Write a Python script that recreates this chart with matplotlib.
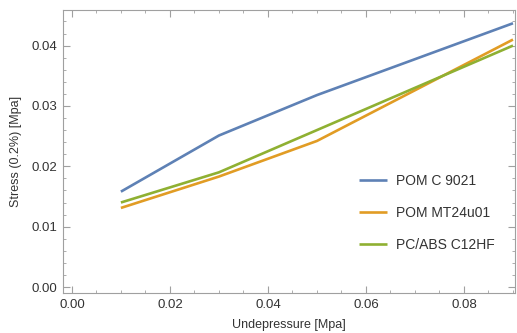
import matplotlib
matplotlib.use("Agg")
import matplotlib.pyplot as plt
from matplotlib.ticker import MultipleLocator, FormatStrFormatter

plt.rcParams['font.family'] = ['Liberation Sans', 'DejaVu Sans']

x = [0.01, 0.03, 0.05, 0.09]
pom_c9021 = [0.0158, 0.0251, 0.0318, 0.0437]
pom_mt24u01 = [0.0131, 0.0183, 0.0242, 0.0410]
pcabs_c12hf = [0.0140, 0.0190, 0.0260, 0.0400]
labels = ["POM C 9021", "POM MT24u01", "PC/ABS C12HF"]
colors = ["#5E81B5", "#E19C24", "#8FB032"]

fig = plt.figure(figsize=(5.17, 3.33), dpi=100)
ax = fig.add_axes([0.122, 0.120, 0.874, 0.850])
for ys, lab, c in zip([pom_c9021, pom_mt24u01, pcabs_c12hf], labels, colors):
    ax.plot(x, ys, color=c, lw=1.9, label=lab, solid_capstyle='butt')

ax.set_xlim(-0.0018, 0.0904)
ax.set_ylim(-0.001, 0.0459)
ax.xaxis.set_major_locator(MultipleLocator(0.02))
ax.xaxis.set_minor_locator(MultipleLocator(0.005))
ax.yaxis.set_major_locator(MultipleLocator(0.01))
ax.yaxis.set_minor_locator(MultipleLocator(0.002))
ax.xaxis.set_major_formatter(FormatStrFormatter('%.2f'))
ax.yaxis.set_major_formatter(FormatStrFormatter('%.2f'))

gray = "#A0A0A0"
txt = "#333333"
for s in ax.spines.values():
    s.set_color(gray)
    s.set_linewidth(0.8)
ax.tick_params(which='both', direction='in', top=True, right=True, color=gray, labelcolor=txt, labelsize=9.5)
ax.tick_params(which='major', length=5, width=0.8, pad=4)
ax.tick_params(which='minor', length=2.5, width=0.6)
ax.tick_params(axis='x', labeltop=False)
ax.tick_params(axis='y', labelright=False)

ax.set_xlabel("Undepressure [Mpa]", fontsize=9, color=txt, labelpad=6)
ax.set_ylabel("Stress (0.2%) [Mpa]", fontsize=9, color=txt, labelpad=7)

leg = ax.legend(loc='center left', bbox_to_anchor=(0.627, 0.284), frameon=False,
                fontsize=10, handlelength=2.0, handletextpad=0.65, labelspacing=1.3)
for t in leg.get_texts():
    t.set_color(txt)

fig.savefig("out.png", dpi=100)
